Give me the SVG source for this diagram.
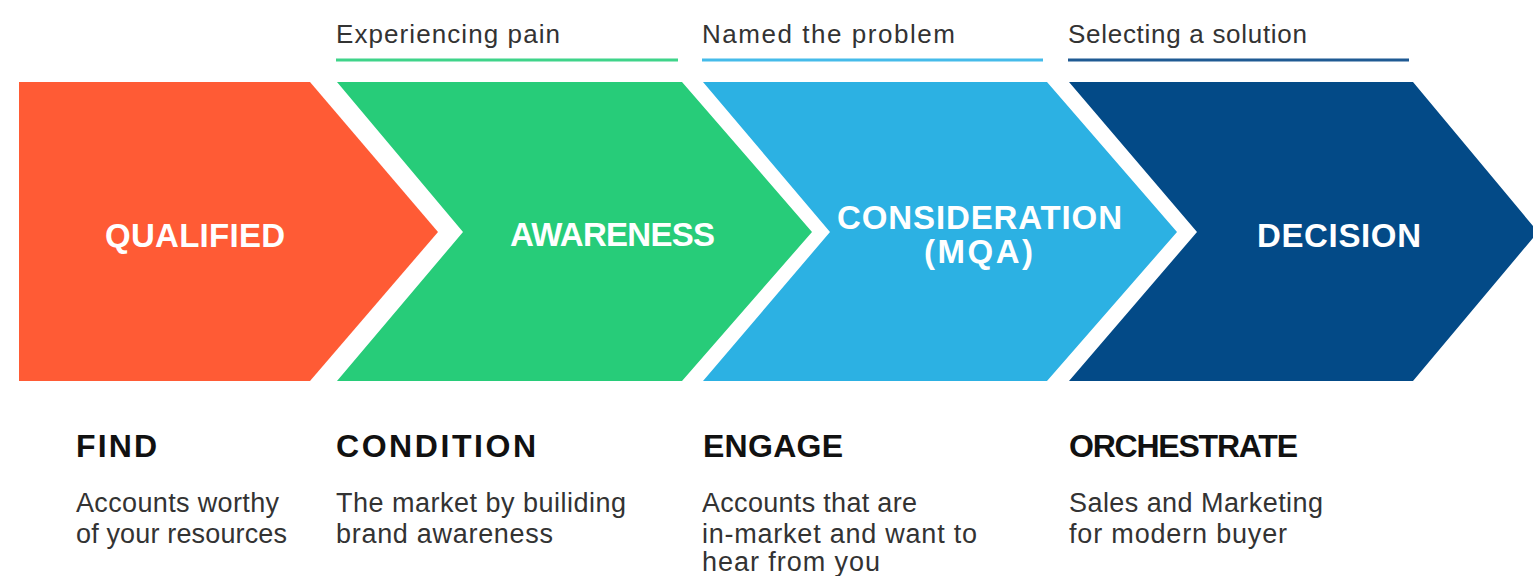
<svg xmlns="http://www.w3.org/2000/svg" width="1533" height="576" viewBox="0 0 1533 576">
<style>
.hdr{font-family:"Liberation Sans",Arial,sans-serif;font-size:26px;fill:#333333;}
.lbl{font-family:"Liberation Sans",Arial,sans-serif;font-size:33px;font-weight:bold;fill:#ffffff;}
.ttl{font-family:"Liberation Sans",Arial,sans-serif;font-size:32px;font-weight:bold;fill:#111111;}
.dsc{font-family:"Liberation Sans",Arial,sans-serif;font-size:27px;fill:#333333;}
.bar{stroke-width:3;fill:none;}
</style>
<rect width="1533" height="576" fill="#ffffff"/>
<g id="stage-qualified">
  <polygon points="19,82 310,82 438,232 310,381 19,381" fill="#FF5B35"/>
  <text class="lbl" x="105" y="247" textLength="180" lengthAdjust="spacing">QUALIFIED</text>
  <text class="ttl" x="76" y="457" textLength="81" lengthAdjust="spacing">FIND</text>
  <text class="dsc" x="76" y="512" textLength="203" lengthAdjust="spacing">Accounts worthy</text>
  <text class="dsc" x="76" y="543" textLength="211" lengthAdjust="spacing">of your resources</text>
</g>
<g id="stage-awareness">
  <text class="hdr" x="336" y="43" textLength="224" lengthAdjust="spacing">Experiencing pain</text>
  <line class="bar" x1="336" y1="60" x2="678" y2="60" stroke="#3FD48A"/>
  <polygon points="337,82 682,82 812,232 682,381 337,381 463,232" fill="#27CC79"/>
  <text class="lbl" x="510" y="246" textLength="205" lengthAdjust="spacing">AWARENESS</text>
  <text class="ttl" x="336" y="457" textLength="200" lengthAdjust="spacing">CONDITION</text>
  <text class="dsc" x="336" y="512" textLength="290" lengthAdjust="spacing">The market by builiding</text>
  <text class="dsc" x="336" y="543" textLength="217" lengthAdjust="spacing">brand awareness</text>
</g>
<g id="stage-consideration">
  <text class="hdr" x="702" y="43" textLength="253" lengthAdjust="spacing">Named the problem</text>
  <line class="bar" x1="702" y1="60" x2="1043" y2="60" stroke="#45BBEA"/>
  <polygon points="703,82 1047,82 1177,232 1047,381 703,381 830,232" fill="#2CB1E3"/>
  <text class="lbl" x="837" y="229" textLength="285" lengthAdjust="spacing">CONSIDERATION</text>
  <text class="lbl" x="924" y="263" textLength="109" lengthAdjust="spacing">(MQA)</text>
  <text class="ttl" x="703" y="457" textLength="140" lengthAdjust="spacing">ENGAGE</text>
  <text class="dsc" x="702" y="512" textLength="215" lengthAdjust="spacing">Accounts that are</text>
  <text class="dsc" x="702" y="543" textLength="275" lengthAdjust="spacing">in-market and want to</text>
  <text class="dsc" x="702" y="571" textLength="178" lengthAdjust="spacing">hear from you</text>
</g>
<g id="stage-decision">
  <text class="hdr" x="1068" y="43" textLength="239" lengthAdjust="spacing">Selecting a solution</text>
  <line class="bar" x1="1068" y1="60" x2="1409" y2="60" stroke="#1F5A93"/>
  <polygon points="1069,82 1413,82 1538,232 1413,381 1069,381 1197,232" fill="#034A87"/>
  <text class="lbl" x="1257" y="247" textLength="164" lengthAdjust="spacing">DECISION</text>
  <text class="ttl" x="1069" y="457" textLength="229" lengthAdjust="spacing">ORCHESTRATE</text>
  <text class="dsc" x="1069" y="512" textLength="254" lengthAdjust="spacing">Sales and Marketing</text>
  <text class="dsc" x="1069" y="543" textLength="218" lengthAdjust="spacing">for modern buyer</text>
</g>
</svg>
